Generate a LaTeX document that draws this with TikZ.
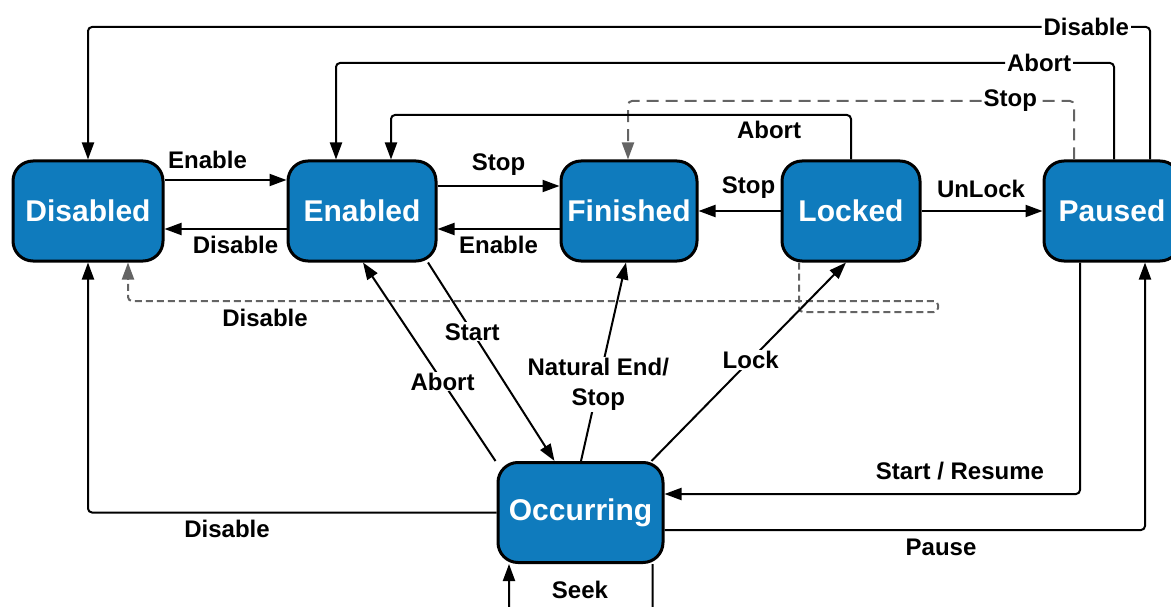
\documentclass[tikz,border=0pt]{standalone}
\usepackage{fontspec}
\setmainfont{Liberation Sans}
\usetikzlibrary{arrows.meta, positioning, calc}
\definecolor{stateblue}{RGB}{15,123,189}
\definecolor{dashgray}{RGB}{100,100,100}
\tikzset{
	state/.style={shape=rectangle, draw=black, line width=3pt, fill=stateblue, rounded corners=20pt, minimum height=100pt, text=white, font=\fontsize{30}{30}\selectfont\bfseries, inner sep=0pt},
	lbl/.style={font=\fontsize{24}{30}\selectfont\bfseries, align=center, inner sep=1pt},
	cut/.style={lbl, fill=white},
	wire/.style={line width=2pt, rounded corners=4pt},
	arr/.style={wire, -{Triangle[length=17pt, width=12pt]}},
	dwire/.style={wire, draw=dashgray, dash pattern={on 12pt off 7pt}},
	darr/.style={dwire, -{Triangle[length=17pt, width=12pt, fill=dashgray]}}
}

\begin{document}
\begin{tikzpicture}[x=1pt, y=-1pt]
	\useasboundingbox (0,0) rectangle (1171,607);
	% States:
	\node[state, minimum width=150pt] (dis) at (88,211) {Disabled};
	\node[state, minimum width=148pt] (ena) at (362,211) {Enabled};
	\node[state, minimum width=136pt] (fin) at (629,211) {Finished};
	\node[state, minimum width=138pt] (lck) at (851,211) {Locked};
	\node[state, minimum width=136pt] (pau) at (1112,211) {Paused};
	\node[state, minimum width=165pt] (occ) at (580.5,512.5) {Occurring};

	% Long routes over the top:
	\draw[wire] ([xshift=38pt]pau.north) |- (1131,27) node[lbl, fill=white, anchor=east] (disT) {Disable};
	\draw[arr] (disT.west) -| (dis.north);
	\draw[wire] ([xshift=2pt]pau.north) |- (1073,63) node[lbl, fill=white, anchor=east] (abtT) {Abort};
	\draw[arr] (abtT.west) -| ([xshift=-26pt]ena.north);
	\draw[dwire] ([xshift=-38pt]pau.north) |- (1039,101) node[lbl, fill=white, anchor=east] (stpT) {Stop};
	\draw[darr] (stpT.west) -| ([xshift=-1pt]fin.north);
	\draw[arr] (lck.north) |- (391,115) -- ([xshift=29pt]ena.north);
	\node[lbl] (abortl) at (769,130) {Abort};

	% Between neighbours:
	\draw[arr] (dis.east |- 0,180) -- (ena.west |- 0,180) node[lbl, midway, above=9pt, xshift=-18pt] {Enable};
	\draw[arr] (ena.west |- 0,229) -- (dis.east |- 0,229) node[lbl, midway, below=5pt, xshift=10pt] {Disable};
	\draw[arr] (ena.east |- 0,186) -- (fin.west |- 0,186) node[lbl, midway, above=9pt] {Stop};
	\draw[arr] (fin.west |- 0,229) -- (ena.east |- 0,229) node[lbl, midway, below=5pt] {Enable};
	\draw[arr] (lck.west) -- (fin.east) node[lbl, midway, above=11pt, xshift=9pt] {Stop};
	\draw[arr] (lck.east) -- (pau.west) node[lbl, midway, above=11pt, xshift=-1pt] {UnLock};

	% Dashed Disable from Locked:
	\draw[darr, dash pattern={on 7pt off 4pt}] ([xshift=-52pt]lck.south) |- (938,312) -- (938,301) -| ([xshift=40pt]dis.south);
	\node[lbl] (disl) at (265,318) {Disable};

	% Around Occurring:
	\draw[arr] (occ.west) -| (dis.south);
	\node[lbl] (disb) at (227,529) {Disable};
	\draw[arr, rounded corners=0pt] ([xshift=66pt]ena.south) -- ([xshift=-26pt]occ.north) node[cut, pos=0.35] {Start};
	\draw[arr, rounded corners=0pt] ([xshift=-85pt]occ.north) -- ([xshift=1pt]ena.south) node[cut, pos=0.4] {Abort};
	\draw[arr, rounded corners=0pt] ([xshift=0.5pt]occ.north) -- ([xshift=-3pt]fin.south) node[cut, pos=0.385] {Natural End/\\Stop};
	\draw[arr, rounded corners=0pt] ([xshift=71pt]occ.north) -- ([xshift=-5pt]lck.south) node[cut, pos=0.51] {Lock};
	\draw[arr] ([xshift=-32pt]pau.south) |- (occ.east |- 0,494);
	\node[lbl] (resl) at (960,471) {Start / Resume};
	\draw[arr] (occ.east |- 0,530) -| ([xshift=33pt]pau.south);
	\node[lbl] (paul) at (941,547) {Pause};
	\draw[arr] ([xshift=72pt]occ.south) |- (509,625) -- ([xshift=-71.5pt]occ.south);
	\node[lbl] (seekl) at (580,590) {Seek};
\end{tikzpicture}
\end{document}
